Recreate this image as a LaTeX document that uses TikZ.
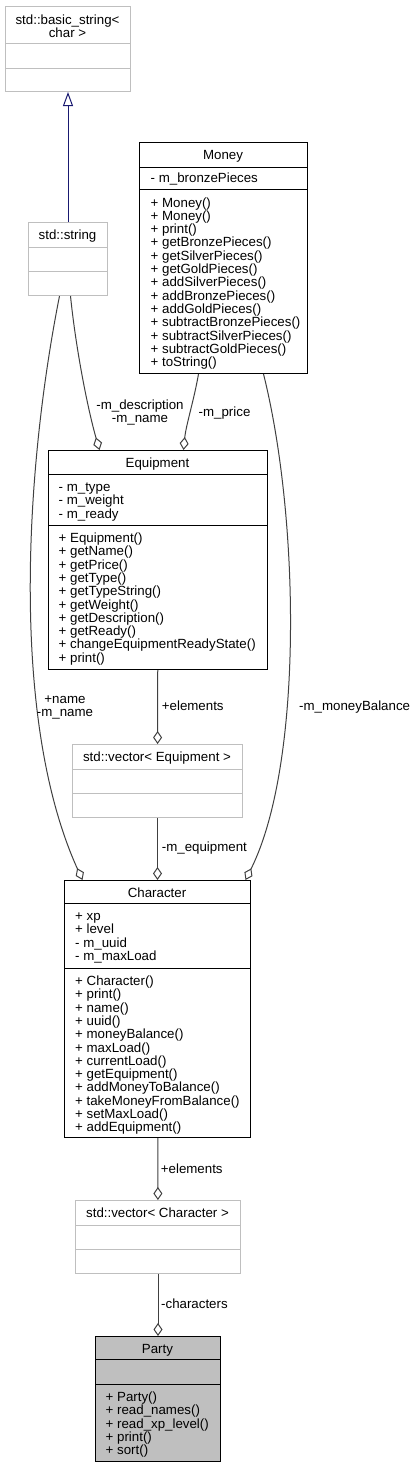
\documentclass[tikz,border=0pt]{standalone}
\usepackage{fontspec}
\setmainfont{Liberation Sans}
\usepackage{xcolor}
\usepackage{tikz}
\usetikzlibrary{arrows.meta}
\definecolor{grey75}{HTML}{BFBFBF}
\definecolor{grey25}{HTML}{404040}
\definecolor{navy}{HTML}{191970}

\begin{document}
\begin{tikzpicture}[x=1pt,y=-1pt,font=\fontsize{13.3}{13.3}\selectfont,
  cls/.style={draw,line width=1pt,inner sep=0,anchor=north west},
  ext/.style={cls,draw=grey75},
  txt/.style={inner sep=0,anchor=base west},
  ttl/.style={inner sep=0,anchor=base},
  agg/.style={draw=grey25,line width=1pt,-{Diamond[open,length=13pt,width=9pt]}},
  inh/.style={draw=navy,line width=1pt,-{Triangle[open,length=14pt,width=10pt]}}]
\useasboundingbox(0,0)rectangle(415,1467);
\node[ext,minimum width=125pt,minimum height=85pt](bstr)at(5,6){};
\draw[grey75](5,43)--(130,43)(5,68)--(130,68);
\node[ttl](bstr-t1)at(67.5,24){std::basic\_string<};
\node[ttl](bstr-t2)at(67.5,37.3){char >};
\node[ext,minimum width=79pt,minimum height=73pt](str)at(28,222){};
\draw[grey75](28,247)--(107,247)(28,271)--(107,271);
\node[ttl](str-t)at(67.5,239){std::string};
\node[cls,minimum width=168pt,minimum height=231pt](money)at(139,142){};
\draw(139,166.7)--(307,166.7)(139,189.3)--(307,189.3);
\node[ttl](money-t)at(223,159){Money};
\node[txt](money-a)at(150.5,182.5){- m\_bronzePieces};
\foreach \m [count=\i from 0] in {+ Money(),+ Money(),+ print(),+ getBronzePieces(),+ getSilverPieces(),+ getGoldPieces(),+ addSilverPieces(),+ addBronzePieces(),+ addGoldPieces(),+ subtractBronzePieces(),+ subtractSilverPieces(),+ subtractGoldPieces(),+ toString()}
  \node[txt](money-m\i)at(150.5,207+13.3*\i){\m};
\node[cls,minimum width=219pt,minimum height=219pt](equip)at(48,450){};
\draw(48,474)--(267,474)(48,525)--(267,525);
\node[ttl](equip-t)at(157.5,467){Equipment};
\foreach \a [count=\i from 0] in {- m\_type,- m\_weight,- m\_ready}
  \node[txt](equip-a\i)at(58.5,491.5+13.3*\i){\a};
\foreach \m [count=\i from 0] in {+ Equipment(),+ getName(),+ getPrice(),+ getType(),+ getTypeString(),+ getWeight(),+ getDescription(),+ getReady(),+ changeEquipmentReadyState(),+ print()}
  \node[txt](equip-m\i)at(58.5,542.5+13.3*\i){\m};
\node[ext,minimum width=170pt,minimum height=73pt](veq)at(72,744){};
\draw[grey75](72,769)--(242,769)(72,793)--(242,793);
\node[ttl](veq-t)at(157,761){std::vector< Equipment >};
\node[cls,minimum width=186pt,minimum height=257pt](char)at(64,880){};
\draw(64,903)--(250,903)(64,968)--(250,968);
\node[ttl](char-t)at(157,897){Character};
\foreach \a [count=\i from 0] in {+ xp,+ level,- m\_uuid,- m\_maxLoad}
  \node[txt](char-a\i)at(75,920.5+13.3*\i){\a};
\foreach \m [count=\i from 0] in {+ Character(),+ print(),+ name(),+ uuid(),+ moneyBalance(),+ maxLoad(),+ currentLoad(),+ getEquipment(),+ addMoneyToBalance(),+ takeMoneyFromBalance(),+ setMaxLoad(),+ addEquipment()}
  \node[txt](char-m\i)at(75,985.5+13.3*\i){\m};
\node[ext,minimum width=165pt,minimum height=73pt](vch)at(75,1200){};
\draw[grey75](75,1225)--(240,1225)(75,1249)--(240,1249);
\node[ttl](vch-t)at(157.5,1217){std::vector< Character >};
\node[cls,fill=grey75,minimum width=125pt,minimum height=125pt](party)at(95,1336){};
\draw(95,1359)--(220,1359)(95,1384)--(220,1384);
\node[ttl](party-t)at(157.5,1353){Party};
\foreach \m [count=\i from 0] in {+ Party(),+ read\_names(),+ read\_xp\_level(),+ print(),+ sort()}
  \node[txt](party-m\i)at(105.5,1401.5+13.3*\i){\m};
\draw[inh](str)--(bstr);
\draw[agg]([xshift=2.5pt]str.south)..controls(76,350)and(88,410)..([xshift=-58.5pt]equip.north);
\draw[agg]([xshift=-25pt]money.south)..controls(194,400)and(186,425)..([xshift=25.5pt]equip.north);
\draw[agg]([xshift=40pt]money.south)..controls(300,520)and(303,765)..([xshift=88pt]char.north);
\draw[agg]([xshift=-8.5pt]str.south)..controls(25,470)and(10,720)..([xshift=-75pt]char.north);
\draw[agg](equip)--(veq);
\draw[agg](veq)--(char);
\draw[agg](char)--(vch);
\draw[agg](vch)--(party);
\node[align=center,inner sep=0](l-desc)at(140,412.5){-m\_description\\-m\_name};
\node[txt](l-price)at(198.5,416.7){-m\_price};
\node[align=center,inner sep=0](l-name)at(65,707.3){+name\\-m\_name};
\node[txt](l-elem1)at(161.7,710.7){+elements};
\node[txt](l-money)at(299,710.7){-m\_moneyBalance};
\node[txt](l-equip)at(161.7,851.7){-m\_equipment};
\node[txt](l-elem2)at(160.7,1173.3){+elements};
\node[txt](l-chars)at(161,1308){-characters};
\end{tikzpicture}
\end{document}
